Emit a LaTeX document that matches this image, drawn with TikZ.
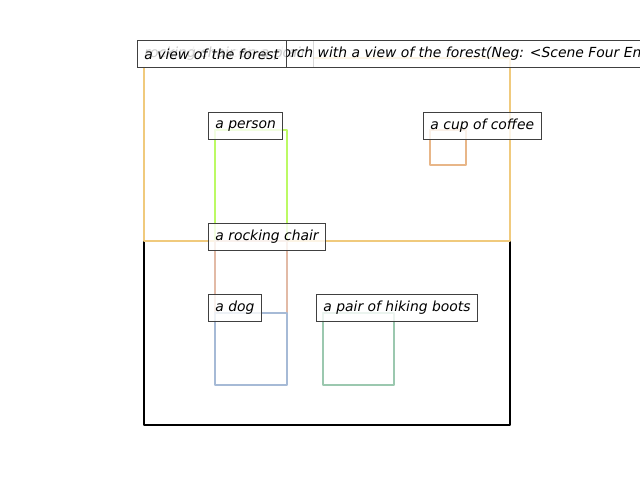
\documentclass[tikz,border=0pt]{standalone}
\usepackage{fontspec}
\setmainfont{DejaVu Sans}
\usetikzlibrary{positioning}
\definecolor{forestc}{RGB}{240,202,125}
\definecolor{personc}{RGB}{188,250,100}
\definecolor{chairc}{RGB}{226,186,166}
\definecolor{dogc}{RGB}{166,186,214}
\definecolor{bootsc}{RGB}{155,200,175}
\definecolor{coffeec}{RGB}{232,182,136}
\begin{document}
\begin{tikzpicture}[x=0.72pt, y=-0.72pt]
    \tikzstyle{region}=[line width=1.44pt, line join=round]
    \tikzstyle{tag}=[draw=black!75, line width=0.72pt, fill=white, fill opacity=0.8, text opacity=1, anchor=west, inner xsep=5pt, minimum height=20pt, font=\itshape]

      \useasboundingbox (0,0) rectangle (640,480);
      \draw[region, black] (144,58) rectangle (510,425);
      \draw[region, forestc] (144,58) rectangle (510,241);
      \draw[region, personc] (215,130) rectangle (287,241);
      \draw[region, chairc] (215,241) rectangle (287,313);
      \draw[region, dogc] (215,313) rectangle (287,385);
      \draw[region, bootsc] (323,313) rectangle (394,385);
      \draw[region, coffeec] (430,130) rectangle (466,165);

      \node[tag] (wholechair) at (137,54) {a wooden rocking chair};
      \node[tag] (caption) at (137,54) {rocking chair on a porch with a view of the forest(Neg: <Scene Four End>)};
      \node[tag] (forest) at (137,54) {a view of the forest};
      \node[tag] (person) at (208,126) {a person};
      \node[tag] (coffee) at (423,126) {a cup of coffee};
      \node[tag] (chair) at (208,237) {a rocking chair};
      \node[tag] (dog) at (208,308) {a dog};
      \node[tag] (boots) at (316,308) {a pair of hiking boots};
    \end{tikzpicture}
\end{document}
